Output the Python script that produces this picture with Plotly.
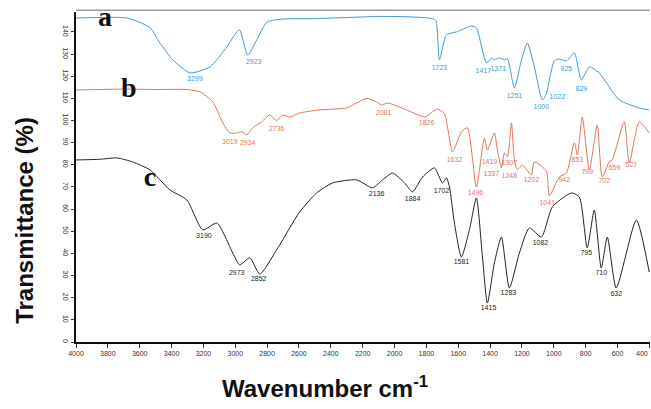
import plotly.graph_objects as go

# ---- spectrum a (blue) ----
a_wn = [4000, 3850, 3680, 3536, 3473, 3392, 3285, 3160, 3053, 2991, 2972, 2922, 2865, 2800, 2700,
        2500, 2300, 2100, 1900, 1762, 1740, 1718, 1674, 1611, 1517, 1486, 1423, 1392, 1373, 1342,
        1310, 1291, 1247, 1203, 1166, 1122, 1072, 1047, 1028, 997, 965, 921, 871, 827, 777, 715,
        589, 464, 401]
a_T = [146.3, 146.5, 146.3, 142.0, 135.0, 127.4, 121.5, 124.2, 133.2, 140.0, 140.9, 129.6, 136.4, 144.5, 145.8,
       146.0, 146.5, 147.0, 146.8, 146.0, 145.0, 127.4, 138.7, 140.0, 142.7, 141.8, 126.0, 128.3, 127.4, 128.3,
       127.4, 127.8, 114.7, 127.4, 135.0, 124.2, 109.3, 112.0, 118.3, 126.9, 127.8, 126.9, 130.5, 118.3, 124.2, 121.5,
       109.3, 105.7, 104.8]

# ---- spectrum b (orange) ----
b_wn = [4000, 3850, 3700, 3500, 3300, 3223, 3141, 3078, 3034, 2984, 2960, 2928, 2890, 2834, 2784,
        2740, 2702, 2658, 2596, 2470, 2301, 2175, 2113, 2081, 2044, 1925, 1812, 1762, 1730, 1686,
        1636, 1580, 1542, 1486, 1436, 1417, 1373, 1354, 1329, 1310, 1291, 1266, 1247, 1229, 1197,
        1141, 1122, 1047, 1028, 965, 921, 871, 852, 821, 777, 727, 696, 652, 633, 558, 526, 464, 401]
b_T = [113.8, 114.0, 114.2, 114.0, 114.0, 113.0, 108.4, 98.9, 94.4, 94.4, 95.0, 93.5, 96.7, 99.4, 102.5,
       100.0, 102.5, 101.6, 103.4, 104.8, 105.7, 110.0, 108.4, 107.0, 107.9, 104.8, 101.6, 103.9, 105.2, 103.0,
       85.8, 94.9, 96.7, 70.0, 92.1, 86.7, 94.4, 86.7, 78.6, 85.4, 83.6, 98.9, 81.8, 77.7, 80.0,
       75.4, 81.3, 77.2, 66.0, 74.5, 76.3, 89.9, 84.5, 101.6, 77.7, 98.0, 74.5, 81.3, 82.2, 99.4, 80.8, 99.4, 94.4]

# ---- spectrum c (black) ----
c_wn = [4000, 3850, 3743, 3643, 3536, 3411, 3304, 3204, 3116, 3016, 2972, 2909, 2846, 2740, 2596,
        2489, 2389, 2238, 2138, 2075, 2012, 1937, 1887, 1824, 1749, 1699, 1674, 1655, 1624, 1580,
        1530, 1486, 1448, 1417, 1373, 1329, 1279, 1216, 1153, 1078, 1009, 890, 840, 790, 746, 702,
        664, 608, 482, 401]
c_T = [82.2, 82.5, 83.1, 81.3, 77.7, 68.7, 64.1, 50.6, 53.7, 40.2, 34.8, 38.0, 30.7, 41.6, 58.7,
       67.3, 71.8, 73.2, 69.6, 73.2, 76.3, 71.8, 67.8, 74.5, 78.6, 71.8, 74.1, 70.0, 53.7, 38.4,
       50.6, 65.0, 38.4, 17.6, 35.7, 47.4, 24.4, 40.2, 51.5, 47.4, 61.0, 67.3, 65.5, 42.5, 59.6, 33.4,
       47.4, 24.4, 55.1, 31.6]

# ---- peak labels (text, wavenumber, transmittance) ----
a_lab = ["3299", "2923", "1723", "1417", "1371", "1251", "1000", "1022", "925", "829"]
a_lab_wn = [3254, 2884, 1718, 1442, 1348, 1247, 1078, 978, 921, 827]
a_lab_T = [118.8, 126.5, 123.8, 122.4, 123.3, 111.1, 106.1, 110.7, 123.3, 114.3]

b_lab = ["3019", "2934", "2736", "2081", "1826", "1632", "1496", "1419", "1337", "1307", "1248",
         "1202", "1041", "942", "853", "799", "702", "659", "527"]
b_lab_wn = [3034, 2922, 2740, 2069, 1799, 1624, 1492, 1404, 1392, 1279, 1279,
            1141, 1041, 934, 853, 790, 683, 620, 514]
b_lab_T = [90.3, 89.9, 96.2, 103.4, 98.9, 82.2, 67.3, 81.3, 75.9, 80.8, 75.0,
           73.2, 62.8, 73.2, 82.2, 76.8, 72.7, 78.6, 79.9]

c_lab = ["3190", "2973", "2852", "2136", "1884", "1702", "1581", "1415", "1283", "1082", "795", "710", "632"]
c_lab_wn = [3197, 2991, 2853, 2113, 1887, 1705, 1580, 1410, 1285, 1084, 796, 702, 608]
c_lab_T = [47.9, 31.2, 28.5, 66.8, 64.6, 68.2, 36.1, 15.4, 22.1, 44.7, 40.2, 31.2, 21.7]

# series letters
letters = ["<b>a</b>", "<b>b</b>", "<b>c</b>"]
letter_wn = [3818, 3668, 3536]
letter_T = [146.0, 113.8, 73.6]

x_ticks = list(range(4000, 399, -200))
y_ticks = list(range(0, 141, 10))
# the last label (400) sits at the picture's right edge; it is drawn right-aligned below
x_ticktext = [str(v) if v != x_ticks[-1] else "" for v in x_ticks]

col_a = "#3f9ad4"
col_b = "#e2745a"
col_c = "#222222"

fig = go.Figure()
for wn, T, col in [(a_wn, a_T, col_a), (b_wn, b_T, col_b), (c_wn, c_T, col_c)]:
    fig.add_trace(go.Scatter(x=wn, y=T, mode="lines",
                             line=dict(color=col, width=1, shape="spline", smoothing=0.6),
                             showlegend=False, hoverinfo="skip"))

for labs, lwn, lT, col in [(a_lab, a_lab_wn, a_lab_T, col_a), (b_lab, b_lab_wn, b_lab_T, col_b),
                           (c_lab, c_lab_wn, c_lab_T, col_c)]:
    fig.add_trace(go.Scatter(x=lwn, y=lT, mode="text", text=labs,
                             textfont=dict(family="Arial, Liberation Sans", size=7, color=col),
                             showlegend=False, hoverinfo="skip"))

fig.add_trace(go.Scatter(x=letter_wn, y=letter_T, mode="text", text=letters,
                         textfont=dict(family="Liberation Serif", size=28, color="#111111"),
                         showlegend=False, hoverinfo="skip"))

fig.add_annotation(text=str(x_ticks[-1]), xref="x", yref="paper", x=x_ticks[-1], y=-0.018,
                   xanchor="right", yanchor="top", showarrow=False, xshift=1,
                   font=dict(family="Liberation Sans", size=7, color="#333333"))

fig.add_annotation(text="<b>Transmittance (%)</b>", xref="paper", yref="paper",
                   x=-0.089, y=0.37, xanchor="center", yanchor="middle",
                   textangle=-90, showarrow=False,
                   font=dict(family="Liberation Sans", size=24, color="#111111"))
fig.add_annotation(text="<b>Wavenumber cm<sup>-1</sup></b>", xref="paper", yref="paper",
                   x=0.434, y=-0.135, xanchor="center", yanchor="middle", showarrow=False,
                   font=dict(family="Liberation Sans", size=24, color="#111111"))

fig.add_shape(type="line", xref="paper", yref="paper", x0=0, x1=1, y0=1.005, y1=1.005,
              line=dict(color="#999999", width=1.5))

fig.update_xaxes(range=[4000, 396], tickvals=x_ticks, ticktext=x_ticktext,
                 showgrid=False, zeroline=False, showline=True, linecolor="#111111", linewidth=2,
                 ticks="outside", ticklen=4, tickcolor="#333333",
                 automargin=False,
                 tickfont=dict(family="Liberation Sans", size=7, color="#333333"))
fig.update_yaxes(range=[0, 149], tickvals=y_ticks, ticktext=[str(v) for v in y_ticks],
                 showgrid=False, zeroline=False, showline=True, linecolor="#111111", linewidth=2,
                 ticks="outside", ticklen=3, tickcolor="#333333", tickangle=90, automargin=False,
                 tickfont=dict(family="Liberation Sans", size=7, color="#333333"))

fig.update_layout(width=651, height=409, margin=dict(l=76, r=1, t=12, b=67),
                  paper_bgcolor="white", plot_bgcolor="white")

fig.write_html("out.html")
